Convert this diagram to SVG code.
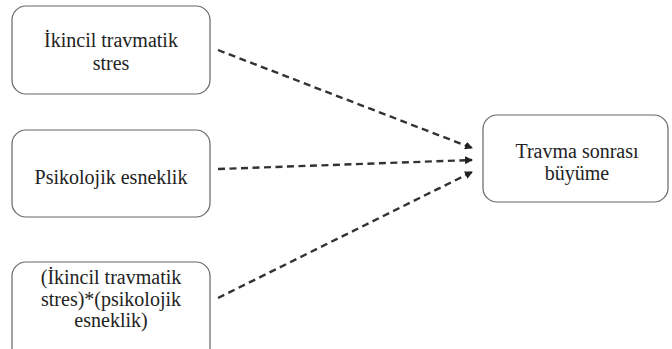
<svg xmlns="http://www.w3.org/2000/svg" width="672" height="349" viewBox="0 0 672 349">
<defs>
<style>
.box{fill:#fff;stroke:#666;stroke-width:1.2}
</style>
<marker id="ah" markerWidth="8" markerHeight="8" refX="7" refY="4" orient="auto" markerUnits="userSpaceOnUse">
<path d="M0,0 L8,4 L0,8 z" fill="#222"/>
</marker>
</defs>
<rect width="672" height="349" fill="#fff"/>
<g font-family="Liberation Serif, serif" font-size="20" fill="#222" text-anchor="middle">
<g id="n1"><rect class="box" x="12" y="6" width="198" height="88" rx="14"/>
<text x="111" y="47">İkincil travmatik</text>
<text x="111" y="70">stres</text></g>
<g id="n2"><rect class="box" x="12" y="130" width="198" height="87" rx="14"/>
<text x="111" y="184">Psikolojik esneklik</text></g>
<g id="n3"><rect class="box" x="12" y="262" width="198" height="100" rx="14"/>
<text x="111" y="284">(İkincil travmatik</text>
<text x="111" y="306">stres)*(psikolojik</text>
<text x="111" y="327">esneklik)</text></g>
<g id="n4"><rect class="box" x="483" y="115" width="185" height="87" rx="14"/>
<text x="577" y="158">Travma sonrası</text>
<text x="577" y="180">büyüme</text></g>
</g>
<g id="connectors" stroke="#333" stroke-width="2.4" stroke-dasharray="7 4.5" fill="none">
<line x1="218" y1="50" x2="472" y2="148" marker-end="url(#ah)"/>
<line x1="218" y1="169" x2="472" y2="160" marker-end="url(#ah)"/>
<line x1="218" y1="298" x2="472" y2="172" marker-end="url(#ah)"/>
</g>
</svg>
